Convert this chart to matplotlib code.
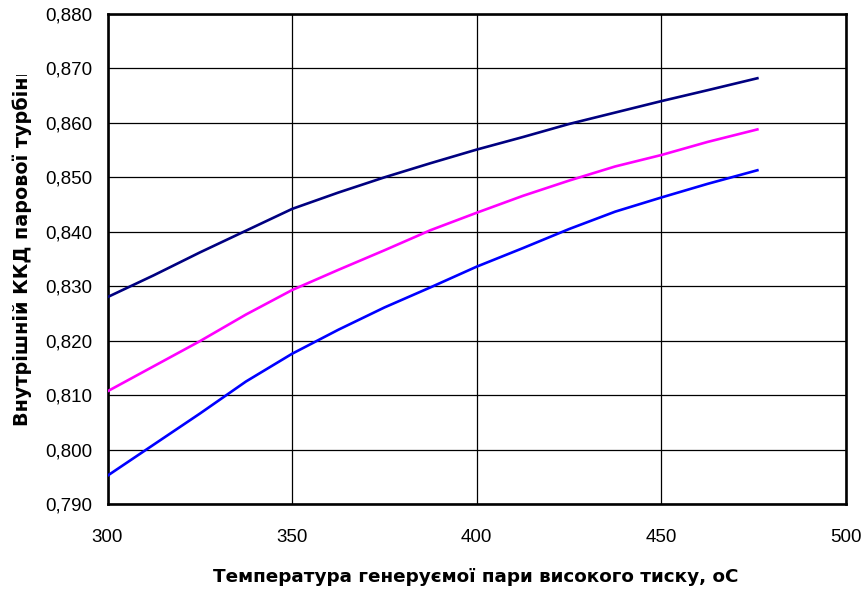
import matplotlib
matplotlib.use("Agg")
import matplotlib.pyplot as plt
from matplotlib.ticker import FuncFormatter, MultipleLocator
from matplotlib.patches import Rectangle

plt.rcParams["font.family"] = ["Liberation Sans", "DejaVu Sans"]

# temperature of generated high-pressure steam, deg C
temps = [300, 312.5, 325, 337.5, 350, 362.5, 375, 387.5, 400, 412.5, 425, 437.5, 450, 462.5, 476]

# internal efficiency of the steam turbine for three cases
eff_top = [0.8280, 0.8320, 0.8362, 0.8402, 0.8442, 0.8472, 0.8500, 0.8526, 0.8551,
           0.8574, 0.8598, 0.8619, 0.8640, 0.8660, 0.8682]
eff_mid = [0.8107, 0.8153, 0.8199, 0.8248, 0.8293, 0.8330, 0.8366, 0.8403, 0.8435,
           0.8466, 0.8494, 0.8520, 0.8541, 0.8565, 0.8588]
eff_low = [0.7952, 0.8009, 0.8066, 0.8125, 0.8176, 0.8220, 0.8261, 0.8298, 0.8336,
           0.8370, 0.8405, 0.8437, 0.8463, 0.8488, 0.8513]

fig = plt.figure(figsize=(8.65, 5.89), dpi=100)
ax = fig.add_axes([107.5 / 865, 85 / 589, (846 - 107.5) / 865, (504 - 14) / 589])

ax.plot(temps, eff_top, color="#000080", lw=1.9, zorder=3)
ax.plot(temps, eff_mid, color="#FF00FF", lw=1.9, zorder=3)
ax.plot(temps, eff_low, color="#0000FF", lw=1.9, zorder=3)

ax.set_xlim(300, 500)
ax.set_ylim(0.790, 0.880)
ax.xaxis.set_major_locator(MultipleLocator(50))
ax.yaxis.set_major_locator(MultipleLocator(0.01))
ax.yaxis.set_major_formatter(FuncFormatter(lambda v, p: f"{v:.3f}".replace(".", ",")))
ax.grid(True, color="black", lw=0.9)
ax.set_axisbelow(True)
for s in ax.spines.values():
    s.set_linewidth(1.9)
ax.tick_params(axis="both", length=0, labelsize=13.5)
ax.tick_params(axis="y", pad=11)
ax.tick_params(axis="x", pad=18)

fig.text(475.5 / 865, (589 - 577) / 589, "Температура генеруємої пари високого тиску, оС",
         ha="center", va="center", family="DejaVu Sans", fontsize=13.2, fontweight="bold")

# y label runs past the top of its box and gets cut off there
ylab = fig.text(22 / 865, (589 - 426) / 589, "Внутрішній ККД парової турбіни",
                rotation=90, ha="center", va="bottom",
                family="DejaVu Sans", fontsize=13.8, fontweight="bold")
clip = Rectangle((0, 0), 1, (589 - 75) / 589, transform=fig.transFigure)
ylab.set_clip_path(clip)

fig.savefig("out.png", dpi=100)
